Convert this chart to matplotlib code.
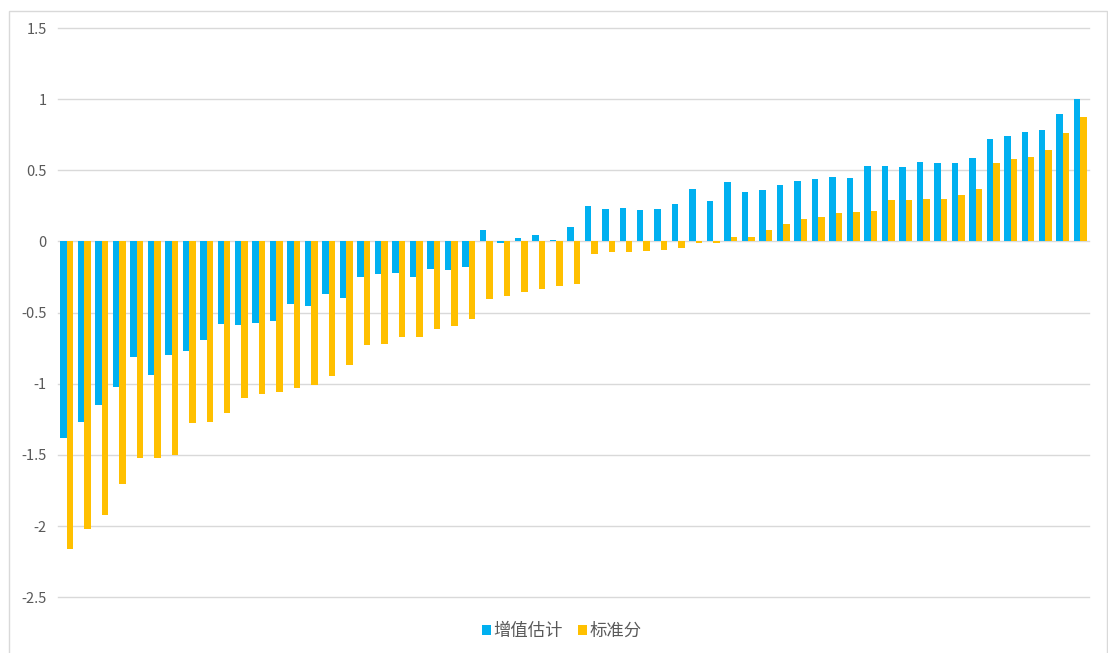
"""Paired bar chart: value-added estimate vs standard score"""

import matplotlib.pyplot as plt
import numpy as np
from matplotlib.patches import Rectangle

plt.rcParams["font.family"] = ["Noto Sans CJK SC", "DejaVu Sans"]

series_names = ["增值估计", "标准分"]

value_added = [
    -1.38, -1.27, -1.15, -1.02, -0.81, -0.94, -0.80, -0.77, -0.69, -0.58,
    -0.59, -0.57, -0.56, -0.44, -0.45, -0.37, -0.40, -0.25, -0.23, -0.22,
    -0.25, -0.19, -0.20, -0.18, 0.08, -0.01, 0.026, 0.045, 0.007, 0.10,
    0.246, 0.227, 0.237, 0.218, 0.227, 0.265, 0.370, 0.283, 0.417, 0.349,
    0.361, 0.398, 0.426, 0.436, 0.454, 0.445, 0.532, 0.532, 0.522, 0.560,
    0.550, 0.550, 0.588, 0.721, 0.740, 0.770, 0.780, 0.897, 0.998,
]

standard_score = [
    -2.164, -2.021, -1.925, -1.705, -1.522, -1.522, -1.503, -1.274, -1.265, -1.208,
    -1.103, -1.075, -1.054, -1.026, -1.005, -0.948, -0.871, -0.728, -0.719, -0.670,
    -0.670, -0.614, -0.595, -0.546, -0.403, -0.384, -0.356, -0.337, -0.316, -0.297,
    -0.087, -0.077, -0.077, -0.068, -0.059, -0.049, -0.012, -0.012, 0.035, 0.035,
    0.082, 0.122, 0.159, 0.169, 0.197, 0.206, 0.215, 0.293, 0.293, 0.302,
    0.302, 0.330, 0.370, 0.550, 0.578, 0.597, 0.646, 0.763, 0.876,
]

y_ticks = [-2.5, -2, -1.5, -1, -0.5, 0, 0.5, 1, 1.5]

BLUE = "#00B0F0"
YELLOW = "#FFC000"
GRID = "#D9D9D9"

fig = plt.figure(figsize=(11.08, 6.53), dpi=100)
ax = fig.add_axes([0.0523, 0.0853, 0.9307, 0.8718])

x = np.arange(len(value_added))
width = 0.37
ax.bar(x - width / 2, value_added, width, color=BLUE, label=series_names[0], zorder=2)
ax.bar(x + width / 2, standard_score, width, color=YELLOW, label=series_names[1], zorder=2)

ax.set_xlim(-0.5, len(value_added) - 0.5)
ax.set_ylim(-2.5, 1.5)
ax.set_yticks(y_ticks)
ax.set_yticklabels([f"{t:g}" for t in y_ticks])
ax.set_xticks([])
ax.tick_params(axis="y", length=0, pad=8, labelsize=10.5, labelcolor="#595959")
ax.grid(axis="y", color=GRID, lw=1, zorder=0)
for line in ax.get_ygridlines():
    line.set_clip_on(False)
for spine in ax.spines.values():
    spine.set_visible(False)

fig.legend(
    loc="center",
    bbox_to_anchor=(0.507, 1 - 631 / 653),
    ncol=2,
    frameon=False,
    fontsize=12.5,
    handlelength=0.5,
    handleheight=0.5,
    handletextpad=0.15,
    columnspacing=0.9,
    labelcolor="#595959",
)

# light frame round the chart, cut off at the bottom like the source
fig.patches.append(
    Rectangle(
        (9 / 1108, -0.05),
        1098 / 1108,
        1.05 - 11 / 653,
        transform=fig.transFigure,
        fill=False,
        edgecolor=GRID,
        lw=1,
    )
)

fig.savefig("out.png", dpi=100)
